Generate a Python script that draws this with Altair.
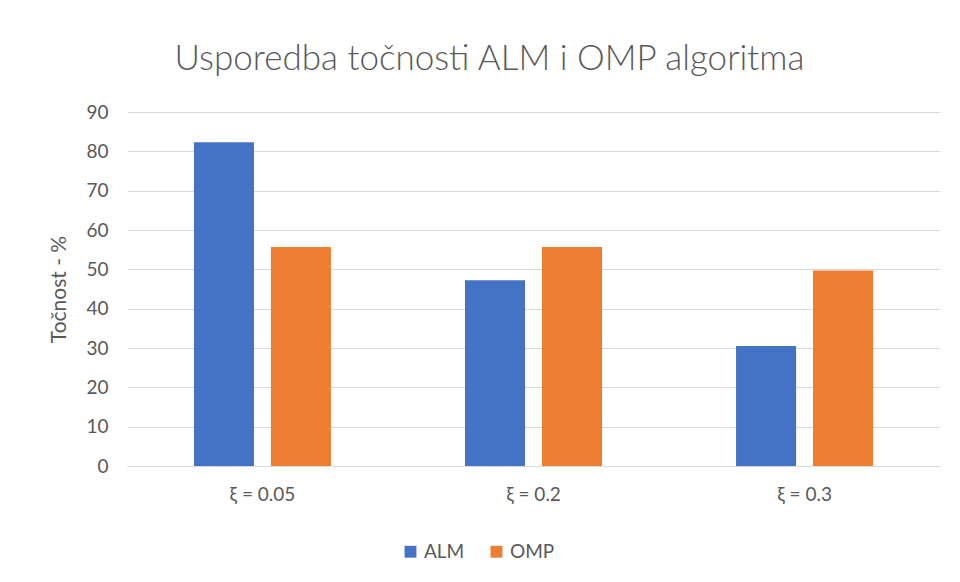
import altair as alt
import pandas as pd

categories = ["ξ = 0.05", "ξ = 0.2", "ξ = 0.3"]
series = ["ALM", "OMP"]
alm = [82.3, 47.2, 30.5]
omp = [55.7, 55.7, 49.7]
y_ticks = [0, 10, 20, 30, 40, 50, 60, 70, 80, 90]

rows = []
for c, a, o in zip(categories, alm, omp):
    rows.append({"cat": c, "serie": "ALM", "val": a})
    rows.append({"cat": c, "serie": "OMP", "val": o})
df = pd.DataFrame(rows)

font = "Lato"
gray = "#595959"

chart = alt.Chart(df).mark_bar().encode(
    x=alt.X("cat:N", sort=categories,
            scale=alt.Scale(paddingInner=0.4945, paddingOuter=0.247),
            axis=alt.Axis(title=None, labelAngle=0, ticks=False, domainColor="#d9d9d9",
                          domainWidth=1, labelPadding=19, labelFontSize=19,
                          labelColor=gray, labelFont=font, grid=False)),
    xOffset=alt.XOffset("serie:N", sort=series,
                        scale=alt.Scale(paddingInner=0.22, paddingOuter=0)),
    y=alt.Y("val:Q", scale=alt.Scale(domain=[0, 90], nice=False),
            axis=alt.Axis(title="Točnost - %", values=y_ticks, ticks=False, domain=False,
                          gridColor="#d9d9d9", labelPadding=19, labelFontSize=19,
                          labelColor=gray, labelFont=font, titleFont=font,
                          titleFontSize=21, titleFontWeight="normal", titleColor=gray,
                          titlePadding=16)),
    color=alt.Color("serie:N", sort=series,
                    scale=alt.Scale(domain=series, range=["#4472C4", "#ED7D31"]),
                    legend=alt.Legend(title=None, orient="none", legendX=274, legendY=430,
                                      direction="horizontal", symbolType="square",
                                      symbolSize=140, symbolStrokeWidth=0,
                                      labelFontSize=19, labelColor=gray, labelFont=font,
                                      columnPadding=22, labelOffset=4)),
).properties(
    width=813, height=354,
    background="white",
    title=alt.TitleParams("Usporedba točnosti ALM i OMP algoritma", font=font,
                          fontSize=35, fontWeight=300, color=gray,
                          anchor="middle", dx=-44, offset=26),
    autosize=alt.AutoSizeParams(type="none"),
    padding={"left": 119, "top": 104, "right": 12, "bottom": 100},
).configure_view(strokeWidth=0, stroke="transparent")

chart.save("out.html", embed_options={"renderer": "svg", "actions": False})
